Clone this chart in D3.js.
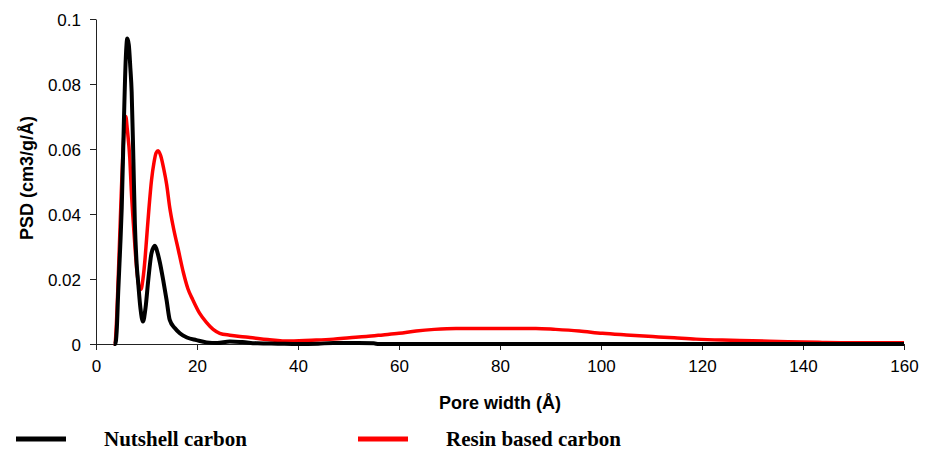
<!DOCTYPE html>
<html>
<head>
<meta charset="utf-8">
<script src="https://cdn.jsdelivr.net/npm/d3@7"></script>
<style>
  html, body { margin: 0; padding: 0; background: #fff; }
  svg { display: block; }
</style>
</head>
<body>
<svg id="chart" width="929" height="452"></svg>
<script>
// ---- data ----
const seriesNames = ["Nutshell carbon", "Resin based carbon"];
const seriesColors = ["#000000", "#ff0000"];

const nutshellX = [3.5, 3.8, 4.1, 4.4, 4.8, 5.1, 5.5, 5.9, 6.2, 6.5, 6.8, 7.06, 7.4, 7.7, 8.0, 8.4, 8.8, 9.3,
  9.8, 10.35, 11.0, 11.67, 12.2, 12.66, 13.3, 13.98, 14.6, 15.6, 16.6, 18.0, 19.9, 21.9, 24.0, 26.5, 29.0,
  32.0, 36.0, 40.0, 44.0, 47.0, 52.0, 55.0, 56.0, 160];
const nutshellY = [0, 0, 0.004, 0.016, 0.030, 0.042, 0.067, 0.088, 0.094, 0.092, 0.085, 0.0776, 0.057, 0.037,
  0.026, 0.018, 0.011, 0.0069, 0.011, 0.0197, 0.028, 0.0302, 0.028, 0.025, 0.0197, 0.0135, 0.0074, 0.0049,
  0.0033, 0.002, 0.0012, 0.0005, 0.0003, 0.0008, 0.0006, 0.0002, 0.0001, 0, 0.0001, 0.0003, 0.0003, 0.0002, 0, 0];

const resinX = [3.5, 3.76, 4.0, 4.3, 4.9, 5.3, 5.7, 5.9, 6.2, 6.7, 7.0, 7.4, 7.8, 8.2, 8.6, 8.9, 9.3, 9.7,
  10.0, 10.5, 11.0, 11.5, 11.9, 12.3, 12.8, 13.4, 14.0, 14.6, 15.3, 16.3, 17.3, 18.2, 19.2, 20.5, 21.9, 23.2,
  24.5, 26.5, 28.5, 30.5, 34.0, 38.4, 43.6, 47.0, 50.2, 53.5, 56.8, 60.0, 63.4, 67.0, 71.3, 80.0, 87.1, 91.0,
  95.7, 100.3, 105.0, 110.2, 114.5, 118.8, 124.0, 130.0, 137.0, 143.8, 150.0, 160.0];
const resinY = [0, 0, 0.005, 0.016, 0.042, 0.058, 0.068, 0.070, 0.066, 0.057, 0.047, 0.037, 0.028, 0.021,
  0.017, 0.0168, 0.020, 0.026, 0.032, 0.042, 0.0505, 0.056, 0.0588, 0.0595, 0.058, 0.054, 0.049, 0.042, 0.036,
  0.029, 0.022, 0.017, 0.0135, 0.0095, 0.0066, 0.0045, 0.0033, 0.0027, 0.0023, 0.002, 0.0014, 0.0009, 0.0012,
  0.0015, 0.0019, 0.0023, 0.0028, 0.0033, 0.004, 0.0045, 0.0048, 0.0048, 0.0048, 0.0045, 0.004, 0.0033, 0.0028,
  0.0023, 0.0019, 0.0015, 0.0012, 0.001, 0.0007, 0.0005, 0.0004, 0.0004];

const xTicks = [0, 20, 40, 60, 80, 100, 120, 140, 160];
const yTicks = [0, 0.02, 0.04, 0.06, 0.08, 0.1];
const yTickLabels = ["0", "0.02", "0.04", "0.06", "0.08", "0.1"];
const xTitle = "Pore width (Å)";
const yTitle = "PSD (cm3/g/Å)";

// ---- chart ----
const svg = d3.select("#chart");
const plot = { left: 96, right: 904, top: 19, bottom: 344 };

const x = d3.scaleLinear().domain([0, 160]).range([plot.left, plot.right]);
const y = d3.scaleLinear().domain([0, 0.1]).range([plot.bottom, plot.top]);

const sansFont = "'Liberation Sans', Arial, sans-serif";
const serifFont = "'Liberation Serif', 'Times New Roman', serif";

// axes
const xAxis = svg.append("g")
  .attr("transform", `translate(0,${plot.bottom})`)
  .call(d3.axisBottom(x).tickValues(xTicks).tickSize(6).tickPadding(10).tickSizeOuter(0));
const yAxis = svg.append("g")
  .attr("transform", `translate(${plot.left},0)`)
  .call(d3.axisLeft(y).tickValues(yTicks).tickSize(6).tickPadding(9).tickSizeOuter(0)
    .tickFormat((d, i) => yTickLabels[i]));

[xAxis, yAxis].forEach(g => {
  g.select(".domain").attr("stroke", "#222").attr("stroke-width", 1);
  g.selectAll(".tick line").attr("stroke", "#222").attr("stroke-width", 1);
  g.selectAll(".tick text").attr("fill", "#000")
    .style("font-family", sansFont).style("font-size", "17px");
});
yAxis.selectAll(".tick text").attr("dy", "0.36em");

// lines
const datasets = [
  nutshellX.map((v, i) => [v, nutshellY[i]]),
  resinX.map((v, i) => [v, resinY[i]])
];
const line = d3.line().x(d => x(d[0])).y(d => y(d[1])).curve(d3.curveMonotoneX);

// draw red first, then black on top? In reference, black appears over red at the first peak
svg.append("path").datum(datasets[1])
  .attr("d", line).attr("fill", "none")
  .attr("stroke", seriesColors[1]).attr("stroke-width", 3.5)
  .attr("stroke-linejoin", "round");
svg.append("path").datum(datasets[0])
  .attr("d", line).attr("fill", "none")
  .attr("stroke", seriesColors[0]).attr("stroke-width", 4)
  .attr("stroke-linejoin", "round");

// titles
svg.append("text")
  .attr("x", (plot.left + plot.right) / 2).attr("y", 409)
  .attr("text-anchor", "middle")
  .style("font-family", sansFont).style("font-size", "18px").style("font-weight", "bold")
  .text(xTitle);
svg.append("text")
  .attr("transform", `translate(33,178) rotate(-90)`)
  .attr("text-anchor", "middle")
  .style("font-family", sansFont).style("font-size", "18px").style("font-weight", "bold")
  .text(yTitle);

// legend
const legendItems = [
  { lineX: 16, textX: 104 },
  { lineX: 358, textX: 446 }
];
legendItems.forEach((it, i) => {
  svg.append("line")
    .attr("x1", it.lineX).attr("x2", it.lineX + 50)
    .attr("y1", 439).attr("y2", 439)
    .attr("stroke", seriesColors[i]).attr("stroke-width", 5);
  svg.append("text")
    .attr("x", it.textX).attr("y", 446)
    .style("font-family", serifFont).style("font-size", "21px").style("font-weight", "bold")
    .text(seriesNames[i]);
});
</script>
</body>
</html>
